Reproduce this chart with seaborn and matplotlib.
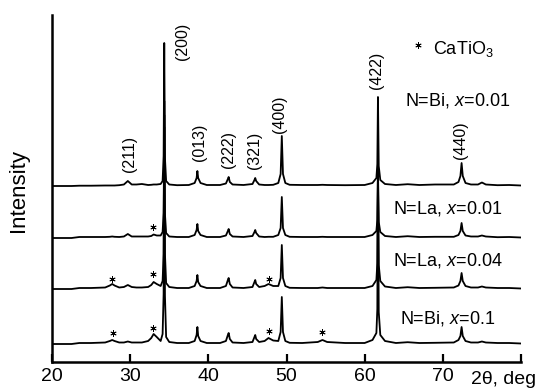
import numpy as np
import pandas as pd
import matplotlib
matplotlib.use("Agg")
import matplotlib.pyplot as plt
import seaborn as sns

# ---------------- data ----------------
two_theta = [20, 22.5, 23.5, 25, 26.8, 27.4, 27.7, 28.0, 28.6, 29.2,
             29.7, 30.2, 30.8, 31.5, 32.3, 32.7, 33.0, 33.4, 33.9, 34.15,
             34.28, 34.36, 34.45, 34.6, 35.0, 36.0, 37.5, 38.25, 38.5, 38.6,
             38.7, 39.0, 39.8, 41.5, 42.25, 42.5, 42.6, 42.75, 43.1, 44.5,
             45.65, 45.9, 46.0, 46.12, 46.5, 47.2, 47.7, 48.3, 48.95, 49.25,
             49.4, 49.55, 49.85, 50.4, 52.0, 54.0, 54.6, 55.2, 57.5, 60.0,
             61.0, 61.5, 61.62, 61.7, 61.8, 62.0, 62.6, 64.0, 65.5, 67.0,
             69.0, 71.4, 72.0, 72.25, 72.4, 72.55, 72.9, 73.6, 74.5, 75.0,
             75.5, 77.0, 78.5, 80.0]

intensity_bi_001 = [0, 0, 0.3, 0.3, 0.5, 0.5, 0.5, 0.5, 0.8, 1.5,
                    5, 1.5, 1.5, 2.0, 1.0, 1.2, 1.5, 1.5, 2, 5,
                    30, 143, 28, 5, 1.5, 0.8, 1.0, 3, 8, 15,
                    8, 3, 1, 1, 2.5, 7, 9, 4, 1.5, 1,
                    2, 6, 8, 5, 1.5, 1, 1, 1.2, 3, 12,
                    50, 12, 3, 1.2, 1, 1, 1.2, 1, 0.8, 1,
                    3, 8, 22, 89, 20, 6, 2, 1, 1.8, 1,
                    1.5, 1.5, 4, 10, 23, 10, 3, 1.5, 1.5, 3.5,
                    1.5, 0.8, 1, 0.5]

intensity_la_001 = [0, 0, 1, 1, 1, 1.2, 1.5, 1.2, 1, 1.5,
                    4, 1.5, 1.5, 1.5, 1.5, 2, 3.5, 2.5, 2.5, 6,
                    25, 111, 24, 5, 1.5, 1, 1, 3, 8, 14,
                    7, 3, 1, 1, 2.5, 7, 9, 4, 1.5, 1,
                    2, 6, 8, 5, 1.5, 1, 1.2, 1.2, 3, 10,
                    41, 10, 3, 1.2, 1, 1, 1.2, 1, 1, 1,
                    3, 7, 18, 70, 16, 6, 2, 1, 1.8, 1,
                    1.2, 1.2, 3, 7, 15, 7, 2.5, 1.5, 1.5, 2.5,
                    1.5, 0.8, 1, 0.5]

intensity_la_004 = [0, 0, 1, 1, 1.5, 3.5, 5, 3.5, 1.5, 2,
                    4, 2, 1.5, 1.5, 2, 4, 7, 5, 3, 8,
                    35, 174, 35, 6, 2, 1, 1, 3, 8, 14,
                    7, 3, 1, 1, 3, 9, 11, 5, 1.5, 1,
                    2, 7, 9, 5, 2, 3, 5, 3, 3, 11,
                    44, 11, 3, 1.2, 1, 1, 1.5, 1, 1, 1,
                    3, 9, 26, 120, 24, 8, 2.5, 1, 1.8, 1,
                    1.2, 1.5, 3.5, 8, 16, 8, 3, 1.5, 1.5, 2.5,
                    1.5, 1, 1, 0.5]

intensity_bi_01 = [0, 0, 1, 1, 1.5, 3, 4, 3, 1.5, 1.5,
                   2.5, 1.5, 1.5, 1.5, 3, 6, 10, 7, 3, 10,
                   50, 243, 48, 7, 2, 1, 1, 3, 9, 17,
                   8, 3, 1, 1, 3, 9, 11, 5, 1.5, 1,
                   2, 7, 9, 5, 2, 3, 6, 3.5, 3, 12,
                   47, 12, 3, 1.2, 1, 2, 4, 2, 1, 1,
                   4, 11, 35, 175, 32, 9, 3, 1, 1.8, 1,
                   1.2, 1.5, 4, 8, 17, 8, 3, 1.5, 1.5, 2.5,
                   1.5, 1, 1, 0.5]

sample_labels = ["N=Bi, $x$=0.01", "N=La, $x$=0.01", "N=La, $x$=0.04", "N=Bi, $x$=0.1"]
series = [intensity_bi_001, intensity_la_001, intensity_la_004, intensity_bi_01]

hkl_labels = ["(211)", "(200)", "(013)", "(222)", "(321)", "(400)", "(422)", "(440)"]
tick_values = [20, 30, 40, 50, 60, 70, 80]
tick_labels = ["20", "30", "40", "50", "60", "70", ""]

# ---------------- layout / style (not data) ----------------
offsets = [176, 124, 73, 18]
hkl_pos = [(29.87, 208), (36.67, 321), (38.85, 220), (42.56, 213),
           (45.9, 212), (49.1, 248), (61.54, 292), (72.3, 222)]
sample_label_pos = [(71.9, 262), (70.6, 154), (70.6, 102), (70.6, 44)]
star_pos = [(32.95, 135),
            (27.7, 83), (32.95, 88), (47.7, 83),
            (27.8, 29), (32.95, 34), (47.7, 31), (54.6, 30)]

sns.set_theme(style="ticks")
plt.rcParams["font.family"] = ["Liberation Sans", "DejaVu Sans"]
plt.rcParams["mathtext.fontset"] = "custom"
plt.rcParams["mathtext.rm"] = "Liberation Sans"
plt.rcParams["mathtext.it"] = "Liberation Sans:italic"
plt.rcParams["mathtext.bf"] = "Liberation Sans:bold"

rows = []
for lab, vals, off in zip(sample_labels, series, offsets):
    for t, v in zip(two_theta, vals):
        rows.append({"two_theta": t, "intensity": v + off, "sample": lab})
df = pd.DataFrame(rows)

fig = plt.figure(figsize=(5.44, 3.89), dpi=100)
ax = fig.add_axes([52 / 544, 27 / 389, 469 / 544, 347 / 389])

sns.lineplot(data=df, x="two_theta", y="intensity", units="sample",
             estimator=None, sort=False, color="black", linewidth=1.3,
             ax=ax, legend=False)

ax.set_xlim(20, 80)
ax.set_ylim(0, 347)
ax.set_xticks(tick_values)
ax.set_xticklabels(tick_labels)
ax.set_yticks([])
ax.tick_params(axis="x", direction="in", length=6, width=1.6,
               labelsize=14, pad=4, color="black", labelcolor="black")
for s in ["top", "right"]:
    ax.spines[s].set_visible(False)
for s in ["left", "bottom"]:
    ax.spines[s].set_linewidth(1.8)
    ax.spines[s].set_color("black")
ax.set_facecolor("white")
fig.patch.set_facecolor("white")

ax.set_xlabel("")
ax.set_ylabel("Intensity", fontsize=16, color="black")
ax.yaxis.set_label_coords(-0.049, 0.493)

ax.text(73.6, -0.049, "2θ, deg", transform=ax.get_xaxis_transform(),
        ha="left", va="center", fontsize=14, color="black")

for lab, (x, y) in zip(hkl_labels, hkl_pos):
    ax.text(x, y, lab, rotation=90, ha="center", va="center",
            fontsize=11.5, color="black")

for lab, (x, y) in zip(sample_labels, sample_label_pos):
    ax.text(x, y, lab, ha="center", va="center", fontsize=13, color="black")

sx = [p[0] for p in star_pos]
sy = [p[1] for p in star_pos]
ax.plot(sx, sy, linestyle="none", marker=(6, 2, 0), markersize=4.5,
        markeredgewidth=0.6, color="black")

ax.plot([66.8], [317], linestyle="none", marker=(6, 2, 0), markersize=4.5,
        markeredgewidth=0.6, color="black", clip_on=False)
ax.text(68.7, 313, "CaTiO$_3$", ha="left", va="center", fontsize=13,
        color="black")

fig.savefig("out.png", dpi=100, facecolor="white")
